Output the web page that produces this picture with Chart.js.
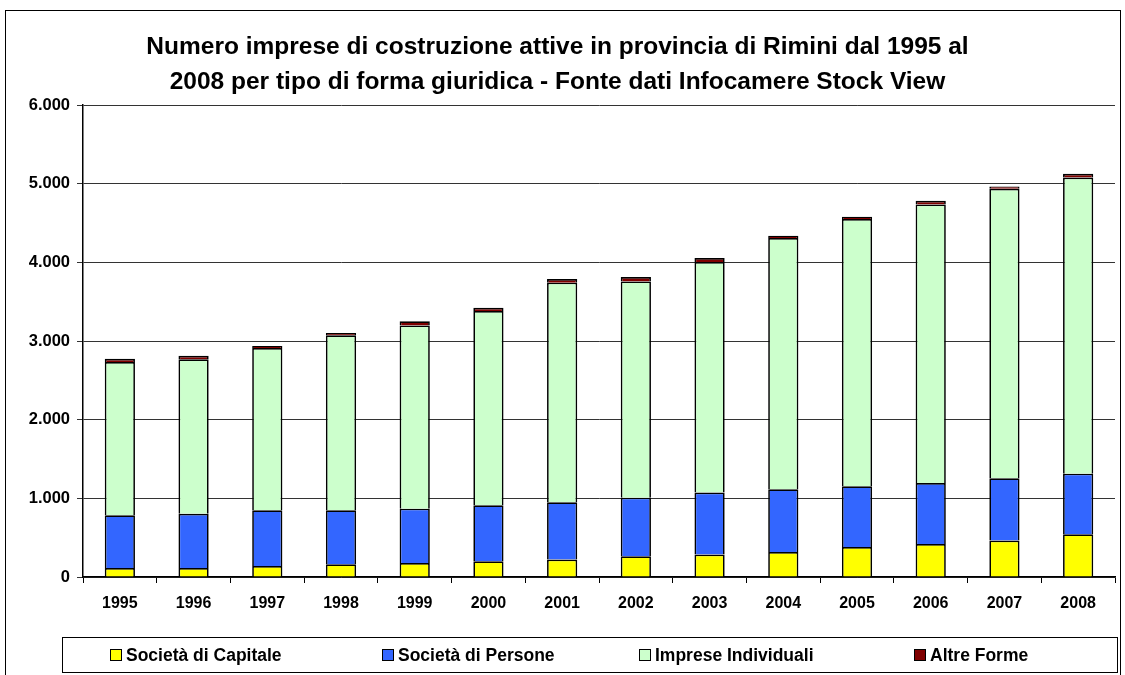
<!DOCTYPE html>
<html>
<head>
<meta charset="utf-8">
<script src="https://cdn.jsdelivr.net/npm/chart.js@4"></script>
<style>
  body { margin: 0; background: #fff; }
  #wrap { position: relative; width: 1125px; height: 675px; overflow: hidden; }
  #frame { position: absolute; left: 5px; top: 10px; width: 1116px; height: 700px; border: 1.5px solid #000; box-sizing: border-box; pointer-events: none; }
  #legend { position: absolute; left: 62px; top: 637px; width: 1056px; height: 36px; border: 1px solid #000; box-sizing: border-box;
    display: grid; grid-template-columns: 272px 257px 275px 200px; padding-left: 47px; align-items: center;
    font: bold 17.5px "Liberation Sans", Arial, sans-serif; color: #000; }
  #legend span.box { display: inline-block; width: 10px; height: 10px; border: 1px solid #000; margin-right: 4px; vertical-align: 0px; }
</style>
</head>
<body>
<div id="wrap">
  <canvas id="chart" width="1125" height="675"></canvas>
  <div id="frame"></div>
  <div id="legend"></div>
</div>
<script>
const years = ["1995", "1996", "1997", "1998", "1999", "2000", "2001", "2002", "2003", "2004", "2005", "2006", "2007", "2008"];
const capitale = [115, 115, 140, 161, 178, 199, 221, 263, 285, 318, 381, 419, 463, 543];
const persone = [669, 690, 708, 687, 691, 712, 728, 746, 788, 797, 772, 776, 791, 771];
const individuali = [1948, 1962, 2062, 2224, 2330, 2470, 2793, 2749, 2931, 3194, 3397, 3542, 3682, 3766];
const altre = [43, 46, 26, 29, 51, 43, 46, 55, 51, 30, 30, 47, 30, 47];

const seriesNames = ["Società di Capitale", "Società di Persone", "Imprese Individuali", "Altre Forme"];
const seriesColors = ["#FFFF00", "#3366FF", "#CCFFCC", "#800000"];

const fontFamily = '"Liberation Sans", Arial, sans-serif';

function fmt(v) {
  return String(v).replace(/\B(?=(\d{3})+(?!\d))/g, ".");
}

const datasets = [capitale, persone, individuali, altre].map((d, i) => ({
  label: seriesNames[i],
  data: d,
  backgroundColor: seriesColors[i],
  borderColor: "#000",
  borderWidth: 1.7,
  barPercentage: 1,
  categoryPercentage: 0.41
}));

// legend as html under the chart
const legendEl = document.getElementById("legend");
seriesNames.forEach((name, i) => {
  const item = document.createElement("div");
  item.innerHTML = '<span class="box" style="background:' + seriesColors[i] + '"></span>' + name;
  legendEl.appendChild(item);
});

const ctx = document.getElementById("chart").getContext("2d");
new Chart(ctx, {
  type: "bar",
  data: { labels: years, datasets: datasets },
  options: {
    responsive: false,
    animation: false,
    layout: { padding: { left: 0, right: 10, top: 0, bottom: 0 } },
    plugins: {
      legend: { display: false },
      tooltip: { enabled: false },
      title: {
        display: true,
        text: ["Numero imprese di costruzione attive in provincia di Rimini dal 1995 al",
               "2008 per tipo di forma giuridica - Fonte dati Infocamere Stock View"],
        color: "#000",
        font: { family: fontFamily, size: 24.5, weight: "bold", lineHeight: 1.43 },
        padding: { top: 30, bottom: 5 }
      }
    },
    scales: {
      x: {
        stacked: true,
        offset: true,
        grid: { drawOnChartArea: false, drawTicks: true, tickLength: 6, color: "#000", offset: true },
        border: { color: "#000", width: 1.5 },
        ticks: { color: "#000", padding: 11, font: { family: fontFamily, size: 16, weight: "bold" } },
        afterFit: (scale) => { scale.height = 98; }
      },
      y: {
        stacked: true,
        min: 0,
        max: 6000,
        grid: { color: "#333", lineWidth: 1, tickLength: 6 },
        border: { color: "#000", width: 1.5 },
        ticks: {
          stepSize: 1000,
          color: "#000",
          padding: 7,
          font: { family: fontFamily, size: 16.5, weight: "bold" },
          callback: (v) => fmt(v)
        },
        afterFit: (scale) => { scale.width = 83; }
      }
    }
  }
});
</script>
</body>
</html>
